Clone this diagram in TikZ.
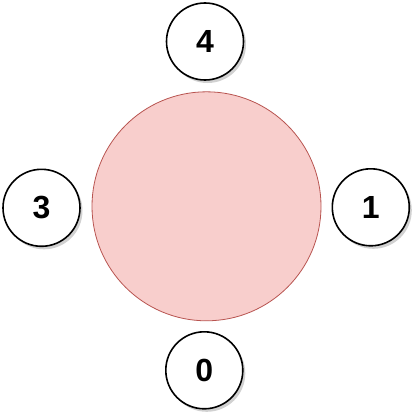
\documentclass[tikz,border=0pt]{standalone}
\usepackage{fontspec}
\setmainfont{Liberation Sans}
\begin{document}
\begin{tikzpicture}[x=1pt,y=-1pt,
  num/.style={circle,draw=black,line width=1.6pt,fill=white,minimum size=77pt,inner sep=0pt,
    font=\fontsize{32}{36}\selectfont\bfseries},
  shad/.style={circle,fill=black!30,opacity=0.6,minimum size=77pt,inner sep=0pt}]
\useasboundingbox (0,0) rectangle (414,415);
\definecolor{bigfill}{HTML}{F8CECC}
\definecolor{bigline}{HTML}{B85450}
\node[circle,draw=bigline,fill=bigfill,line width=0.8pt,minimum size=229pt,inner sep=0pt] (c) at (206.5,206.3) {};
\foreach \x/\y in {205/41.5, 41.5/207.8, 370.8/207.3, 204.3/370.3}{
  \node[shad] at (\x+2.5,\y+3) {};
}
\node[num] (n4) at (205,41.5) {4};
\node[num] (n3) at (41.5,207.8) {3};
\node[num] (n1) at (370.8,207.3) {1};
\node[num] (n0) at (204.3,370.3) {0};
\end{tikzpicture}
\end{document}
